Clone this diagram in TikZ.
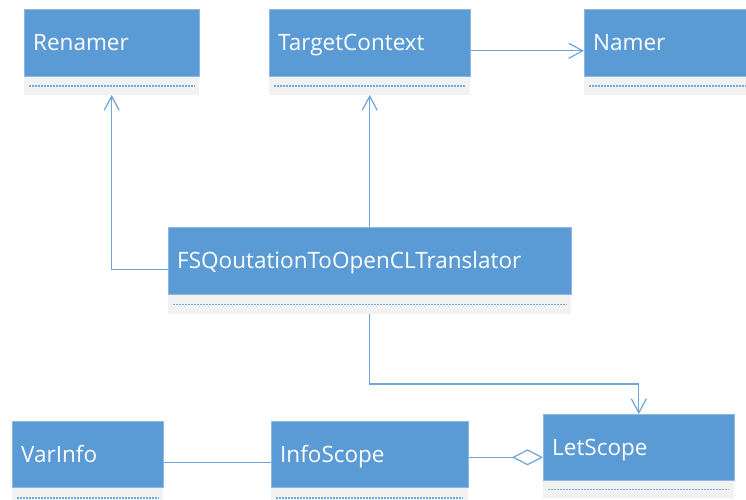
\documentclass[tikz,border=0pt]{standalone}
\usepackage{fontspec}
\setmainfont{Open Sans}
\usetikzlibrary{arrows.meta}
\definecolor{umlblue}{HTML}{5B9BD5}
\definecolor{umledge}{HTML}{8DB8E2}
\definecolor{umlgray}{HTML}{F2F2F2}
\definecolor{umlline}{HTML}{6FA4D9}
\tikzset{
  clsbox/.style={fill=umlblue, draw=umledge, line width=0.6pt, inner sep=0pt, anchor=north west},
  clstext/.style={text=white, font=\fontsize{22.5}{26}\selectfont, inner sep=0pt, anchor=base west},
  graybox/.style={fill=umlgray, draw=none, inner sep=0pt, anchor=north west},
  dashline/.style={draw=umlblue!85, line width=1.6pt, dash pattern=on 2pt off 1pt},
  conn/.style={draw=umlline, line width=1.3pt},
  arr/.style={conn, -{Straight Barb[length=14pt, width=15pt, line width=1.2pt]}},
  agg/.style={conn, {Diamond[open, fill=white, length=31pt, width=16pt, line width=1.2pt]}-},
}
% one UML class: name, left, top, width, height, lower compartment height, title
\newcommand\umlclass[7]{%
  \node[clsbox, minimum width=#4pt, minimum height=#5pt] (#1) at (#2,#3) {};
  \node[clstext] (#1-t) at ([xshift=9pt, yshift=-41pt]#1.north west) {#7};
  \node[graybox, minimum width=#4pt, minimum height=#6pt] (#1-g) at (#1.south west) {};
  \draw[dashline] ([xshift=5pt]#1-g.west) -- ([xshift=-5pt]#1-g.east);
}
\begin{document}
\begin{tikzpicture}[x=1pt, y=-1pt]
\useasboundingbox (0,0) rectangle (746,499);
\umlclass{ren}{24}{9}{175}{67}{18}{Renamer}
\umlclass{tc}{269}{9}{201}{67}{18}{TargetContext}
\umlclass{nam}{584}{9}{170}{67}{18}{Namer}
\umlclass{fsq}{168}{227}{403}{67}{19}{FSQoutationToOpenCLTranslator}
\umlclass{var}{12}{421}{151}{66}{20}{VarInfo}
\umlclass{info}{271}{421}{197}{66}{20}{InfoScope}
\umlclass{let}{543}{414}{191}{66}{17}{LetScope}

\coordinate (bend) at ([yshift=-70pt]fsq-g.south);
\draw[arr] ([yshift=-8pt]tc.east) -- ([yshift=-8pt]tc.east -| nam.west);
\draw[arr] (fsq.north -| tc-g.south) -- (tc-g.south);
\draw[arr] ([yshift=-9pt]fsq.west) -| (ren-g.south);
\draw[arr] (fsq-g.south) -- (bend) -| (let.north);
\draw[conn] ([yshift=-8pt]var.east) -- ([yshift=-8pt]var.east -| info.west);
\draw[agg] ([yshift=-10pt]let.west) -- ([yshift=-10pt]let.west -| info.east);
\end{tikzpicture}
\end{document}
